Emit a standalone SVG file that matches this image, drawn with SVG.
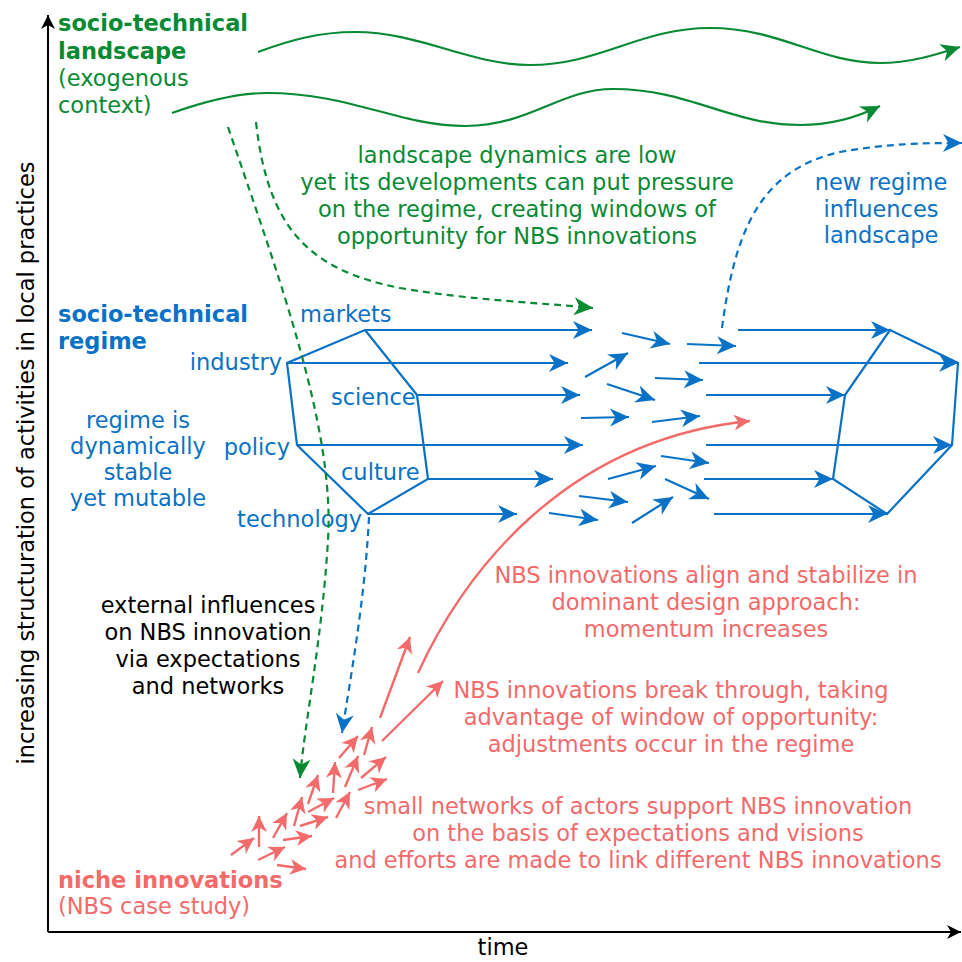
<svg xmlns="http://www.w3.org/2000/svg" width="962" height="962" viewBox="0 0 962 962">
<style>
text{font-family:"DejaVu Sans",Verdana,sans-serif;font-size:22.5px}
.b{font-weight:bold}
.g{fill:#078a33}.bl{fill:#0a72c6}.r{fill:#f36a6a}.k{fill:#000}
.m{text-anchor:middle}.e{text-anchor:end}
.lb{stroke:#0a72c6;stroke-width:2.2;fill:none}
.lr{stroke:#f36a6a;stroke-width:2.4;fill:none}
.lg{stroke:#078a33;stroke-width:2.2;fill:none}
.dg{stroke:#078a33;stroke-width:2.2;fill:none;stroke-dasharray:7 5}
.db{stroke:#0a72c6;stroke-width:2.2;fill:none;stroke-dasharray:7 5}
.ax{stroke:#000;stroke-width:2;fill:none}
</style>
<defs>
<marker id="ab" viewBox="-24 -12 26 24" refX="0" refY="0" markerWidth="26" markerHeight="24" markerUnits="userSpaceOnUse" orient="auto"><path d="M0,0 L-19,-9 L-13.5,0 L-19,9 Z" fill="#0a72c6"/></marker>
<marker id="ar" viewBox="-24 -12 26 24" refX="0" refY="0" markerWidth="26" markerHeight="24" markerUnits="userSpaceOnUse" orient="auto"><path d="M0,0 L-16,-8 L-11.5,0 L-16,8 Z" fill="#f36a6a"/></marker>
<marker id="ag" viewBox="-24 -12 26 24" refX="0" refY="0" markerWidth="26" markerHeight="24" markerUnits="userSpaceOnUse" orient="auto"><path d="M0,0 L-19,-9 L-13.5,0 L-19,9 Z" fill="#078a33"/></marker>
<marker id="ak" viewBox="-24 -12 26 24" refX="0" refY="0" markerWidth="26" markerHeight="24" markerUnits="userSpaceOnUse" orient="auto"><path d="M0,0 L-14,-7 L-10,0 L-14,7 Z" fill="#000"/></marker>
</defs>
<rect width="962" height="962" fill="#fff"/>

<g id="axes">
<path class="ax" d="M48,932 V15" marker-end="url(#ak)"/>
<path class="ax" d="M48,932 H961" marker-end="url(#ak)"/>
<text class="k m" x="503" y="955">time</text>
<text class="k m" transform="translate(34,463) rotate(-90)">increasing structuration of activities in local practices</text>
</g>

<g id="landscape-label">
<text class="g b" x="58" y="31">socio-technical</text>
<text class="g b" x="58" y="59">landscape</text>
<text class="g" x="58" y="86">(exogenous</text>
<text class="g" x="58" y="113">context)</text>
</g>

<g id="regime-label">
<text class="bl b" x="58" y="322">socio-technical</text>
<text class="bl b" x="58" y="349">regime</text>
</g>

<g id="regime-note">
<text class="bl m" x="138" y="428">regime is</text>
<text class="bl m" x="138" y="454">dynamically</text>
<text class="bl m" x="138" y="480">stable</text>
<text class="bl m" x="138" y="506">yet mutable</text>
</g>

<g id="niche-label">
<text class="r b" x="58" y="888">niche innovations</text>
<text class="r" x="58" y="914">(NBS case study)</text>
</g>

<g id="landscape-note">
<text class="g m" x="517" y="163">landscape dynamics are low</text>
<text class="g m" x="517" y="190">yet its developments can put pressure</text>
<text class="g m" x="517" y="217">on the regime, creating windows of</text>
<text class="g m" x="517" y="244">opportunity for NBS innovations</text>
</g>

<g id="new-regime-note">
<text class="bl m" x="881" y="190">new regime</text>
<text class="bl m" x="881" y="217">influences</text>
<text class="bl m" x="881" y="243">landscape</text>
</g>

<g id="external-note">
<text class="k m" x="208" y="613">external influences</text>
<text class="k m" x="208" y="640">on NBS innovation</text>
<text class="k m" x="208" y="667">via expectations</text>
<text class="k m" x="208" y="694">and networks</text>
</g>

<g id="align-note">
<text class="r m" x="706" y="583">NBS innovations align and stabilize in</text>
<text class="r m" x="706" y="610">dominant design approach:</text>
<text class="r m" x="706" y="637">momentum increases</text>
</g>

<g id="break-note">
<text class="r m" x="671" y="698">NBS innovations break through, taking</text>
<text class="r m" x="671" y="725">advantage of window of opportunity:</text>
<text class="r m" x="671" y="752">adjustments occur in the regime</text>
</g>

<g id="networks-note">
<text class="r m" x="638" y="814">small networks of actors support NBS innovation</text>
<text class="r m" x="638" y="841">on the basis of expectations and visions</text>
<text class="r m" x="638" y="868">and efforts are made to link different NBS innovations</text>
</g>

<g id="regime-left">
<path class="lb" d="M365,330 L417,395 L428,479 L368,514 L297,445 L287,363 Z"/>
<text class="bl" x="300" y="322">markets</text>
<text class="bl e" x="282" y="370">industry</text>
<text class="bl" x="331" y="405">science</text>
<text class="bl e" x="290" y="455">policy</text>
<text class="bl" x="341" y="480">culture</text>
<text class="bl e" x="362" y="527">technology</text>
</g>

<g id="regime-right">
<path class="lb" d="M890,330 L958,363 L952,445 L887,514 L833,479 L845,395 Z"/>
</g>

<g id="connectors">
<path class="lg" d="M258,52 C290,40 320,32 355,32 C420,32 470,65 530,65 C600,65 640,28 710,28 C780,28 820,63 880,63 C910,63 935,55 960,47" marker-end="url(#ag)"/>
<path class="lg" d="M172,113 C200,103 235,93 267,93 C350,93 400,126 465,126 C530,126 560,89 613,89 C690,89 730,125 800,125 C835,125 860,116 880,106" marker-end="url(#ag)"/>
<path class="dg" d="M228,127 C280,280 335,430 328,540 C322,640 305,720 300,778" marker-end="url(#ag)"/>
<path class="dg" d="M256,122 C268,230 310,270 400,288 C470,300 530,302 593,308" marker-end="url(#ag)"/>
<path class="db" d="M722,328 C735,230 760,170 840,152 C890,143 930,143 962,143" marker-end="url(#ab)"/>
<path class="db" d="M369,517 C365,600 350,680 342,733" marker-end="url(#ab)"/>
<path class="lb" d="M365,330 H592" marker-end="url(#ab)"/>
<path class="lb" d="M287,363 H568" marker-end="url(#ab)"/>
<path class="lb" d="M417,395 H580" marker-end="url(#ab)"/>
<path class="lb" d="M297,445 H583" marker-end="url(#ab)"/>
<path class="lb" d="M428,479 H553" marker-end="url(#ab)"/>
<path class="lb" d="M368,514 H517" marker-end="url(#ab)"/>
<path class="lb" d="M738,330 H890" marker-end="url(#ab)"/>
<path class="lb" d="M699,363 H958" marker-end="url(#ab)"/>
<path class="lb" d="M706,395 H845" marker-end="url(#ab)"/>
<path class="lb" d="M706,445 H952" marker-end="url(#ab)"/>
<path class="lb" d="M704,479 H833" marker-end="url(#ab)"/>
<path class="lb" d="M714,514 H887" marker-end="url(#ab)"/>
<path class="lb" d="M622,333 L670,344" marker-end="url(#ab)"/>
<path class="lb" d="M687,344 L736,346" marker-end="url(#ab)"/>
<path class="lb" d="M585,377 L628,353" marker-end="url(#ab)"/>
<path class="lb" d="M655,378 L703,380" marker-end="url(#ab)"/>
<path class="lb" d="M607,384 L655,400" marker-end="url(#ab)"/>
<path class="lb" d="M581,418 L629,417" marker-end="url(#ab)"/>
<path class="lb" d="M652,422 L700,416" marker-end="url(#ab)"/>
<path class="lb" d="M661,456 L709,463" marker-end="url(#ab)"/>
<path class="lb" d="M608,479 L656,466" marker-end="url(#ab)"/>
<path class="lb" d="M665,479 L709,499" marker-end="url(#ab)"/>
<path class="lb" d="M579,496 L628,502" marker-end="url(#ab)"/>
<path class="lb" d="M632,523 L673,497" marker-end="url(#ab)"/>
<path class="lb" d="M549,513 L598,520" marker-end="url(#ab)"/>
<path class="lr" d="M418,673 C460,580 560,440 750,421" marker-end="url(#ar)"/>
<path class="lr" d="M380,718 L410,637" marker-end="url(#ar)"/>
<path class="lr" d="M382,741 L443,681" marker-end="url(#ar)"/>
<path class="lr" d="M231,855 L254,838" marker-end="url(#ar)"/>
<path class="lr" d="M259,847 L259,816" marker-end="url(#ar)"/>
<path class="lr" d="M258,860 L285,847" marker-end="url(#ar)"/>
<path class="lr" d="M273,838 L287,813" marker-end="url(#ar)"/>
<path class="lr" d="M277,865 L306,869" marker-end="url(#ar)"/>
<path class="lr" d="M283,840 L312,836" marker-end="url(#ar)"/>
<path class="lr" d="M294,826 L302,797" marker-end="url(#ar)"/>
<path class="lr" d="M300,826 L328,817" marker-end="url(#ar)"/>
<path class="lr" d="M308,804 L318,775" marker-end="url(#ar)"/>
<path class="lr" d="M308,812 L334,798" marker-end="url(#ar)"/>
<path class="lr" d="M336,818 L350,792" marker-end="url(#ar)"/>
<path class="lr" d="M333,793 L335,762" marker-end="url(#ar)"/>
<path class="lr" d="M345,787 L358,756" marker-end="url(#ar)"/>
<path class="lr" d="M339,758 L358,736" marker-end="url(#ar)"/>
<path class="lr" d="M361,778 L386,757" marker-end="url(#ar)"/>
<path class="lr" d="M358,790 L387,779" marker-end="url(#ar)"/>
<path class="lr" d="M364,755 L372,727" marker-end="url(#ar)"/>
</g>
</svg>
